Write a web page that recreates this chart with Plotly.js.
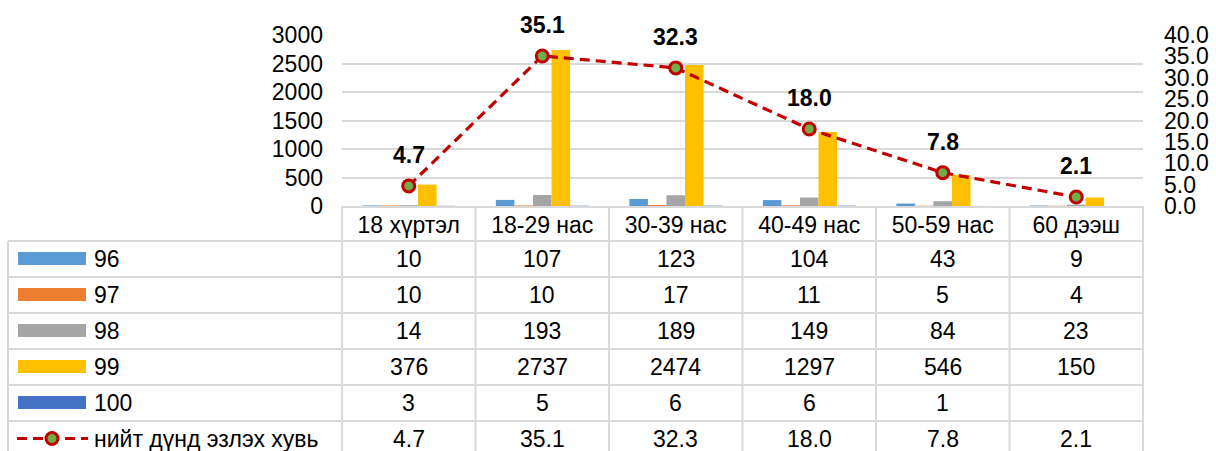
<!DOCTYPE html>
<html>
<head>
<meta charset="utf-8">
<script src="https://cdn.plot.ly/plotly-3.0.1.min.js"></script>
<style>
html,body{margin:0;padding:0;background:#fff;}
#chart{width:1216px;height:451px;}
</style>
</head>
<body>
<div id="chart"></div>
<script>
// ---- data ----
const categories = ["18 хүртэл", "18-29 нас", "30-39 нас", "40-49 нас", "50-59 нас", "60 дээш"];
const seriesNames = ["96", "97", "98", "99", "100"];
const s96  = [10, 107, 123, 104, 43, 9];
const s97  = [10, 10, 17, 11, 5, 4];
const s98  = [14, 193, 189, 149, 84, 23];
const s99  = [376, 2737, 2474, 1297, 546, 150];
const s100 = [3, 5, 6, 6, 1, null];
const lineName = "нийт дүнд эзлэх хувь";
const lineVals = [4.7, 35.1, 32.3, 18.0, 7.8, 2.1];
const leftTicks = [0, 500, 1000, 1500, 2000, 2500, 3000];
const rightTicks = [0, 5, 10, 15, 20, 25, 30, 35, 40];

// ---- style ----
const W = 1216, H = 451;
const colors = ["#5B9BD5", "#ED7D31", "#A5A5A5", "#FFC000", "#4472C4"];
const lineColor = "#C00000", markerFill = "#70AD47";
const gridColor = "#D9D9D9";
const FONT = "Liberation Sans, Arial, sans-serif";
const FS = 23;
const plotL = 342, plotR = 1143, plotT = 35, plotB = 206;
const rowTop = 241, rowH = 36;

const P = x => x / W;
const Q = y => (H - y) / H;

const barSeries = [s96, s97, s98, s99, s100];
const idx = categories.map((c, i) => i);

const traces = barSeries.map((vals, k) => ({
  type: "bar", name: seriesNames[k], x: idx, y: vals,
  marker: {color: colors[k]}, xaxis: "x", yaxis: "y", hoverinfo: "skip"
}));
traces.push({
  type: "scatter", mode: "lines+markers", name: lineName, x: idx, y: lineVals,
  xaxis: "x", yaxis: "y2", cliponaxis: false,
  line: {color: lineColor, width: 3.2, dash: "10px,6px"},
  marker: {size: 12, color: markerFill, line: {color: lineColor, width: 3}}
});

const shapes = [];
const annotations = [];
const lc = {color: gridColor, width: 2};

// table grid
const colW = (plotR - plotL) / categories.length;
for (let k = 0; k <= categories.length; k++) {
  const x = plotL + colW * k;
  shapes.push({type: "line", xref: "paper", yref: "paper", x0: P(x), x1: P(x), y0: Q(plotB), y1: Q(H + 5), line: lc});
}
shapes.push({type: "line", xref: "paper", yref: "paper", x0: P(8), x1: P(8), y0: Q(rowTop), y1: Q(H + 5), line: lc});
for (let r = 0; r < 6; r++) {
  const y = rowTop + rowH * r;
  shapes.push({type: "line", xref: "paper", yref: "paper", x0: P(8), x1: P(plotR), y0: Q(y), y1: Q(y), line: lc});
}

// rows
const rowLabels = seriesNames.concat([lineName]);
const rowData = barSeries.concat([lineVals]);
rowLabels.forEach((lab, r) => {
  const cy = rowTop + rowH * r + 17.5;
  if (r < 5) {
    shapes.push({type: "rect", xref: "paper", yref: "paper", x0: P(18), x1: P(86), y0: Q(cy - 6.5), y1: Q(cy + 6.5),
      fillcolor: colors[r], line: {width: 0}});
  } else {
    shapes.push({type: "line", xref: "paper", yref: "paper", x0: P(17), x1: P(88), y0: Q(cy), y1: Q(cy),
      line: {color: lineColor, width: 3.2, dash: "10px,6px"}});
    shapes.push({type: "circle", xref: "paper", yref: "paper", x0: P(46), x1: P(58), y0: Q(cy + 6), y1: Q(cy - 6),
      fillcolor: markerFill, line: {color: lineColor, width: 3}});
  }
  annotations.push({xref: "paper", yref: "paper", x: P(92), y: Q(cy), xanchor: "left", yanchor: "middle",
    text: lab, showarrow: false, font: {family: FONT, size: FS, color: "#000"}});
  rowData[r].forEach((v, i) => {
    if (v === null || v === undefined) return;
    annotations.push({xref: "x", yref: "paper", x: i, y: Q(cy), xanchor: "center", yanchor: "middle",
      text: r === 5 ? v.toFixed(1) : String(v), showarrow: false, font: {family: FONT, size: FS, color: "#000"}});
  });
});

// data labels on the line
lineVals.forEach((v, i) => {
  annotations.push({xref: "x", yref: "y2", x: i, y: v, yshift: 31, xanchor: "center", yanchor: "middle",
    text: "<b>" + v.toFixed(1) + "</b>", showarrow: false, font: {family: FONT, size: FS, color: "#000"}});
});

const layout = {
  width: W, height: H,
  margin: {l: 0, r: 0, t: 0, b: 0},
  paper_bgcolor: "#fff", plot_bgcolor: "rgba(0,0,0,0)",
  showlegend: false,
  barmode: "group", bargap: 0.305, bargroupgap: 0,
  font: {family: FONT, size: FS, color: "#000"},
  xaxis: {
    domain: [P(plotL), P(plotR)], anchor: "y", type: "linear",
    range: [-0.5, categories.length - 0.5],
    tickmode: "array", tickvals: idx, ticktext: categories,
    showgrid: false, zeroline: false, showline: true, linecolor: gridColor, linewidth: 2,
    ticks: "", ticklabelstandoff: -3, automargin: false,
    tickfont: {family: FONT, size: FS, color: "#000"}
  },
  yaxis: {
    domain: [Q(plotB), Q(plotT)], anchor: "x",
    range: [0, 3000], tickmode: "array", tickvals: leftTicks,
    showgrid: true, gridcolor: gridColor, gridwidth: 2, zeroline: false, showline: false,
    ticks: "", ticklabelstandoff: 18, automargin: false,
    tickfont: {family: FONT, size: FS, color: "#000"}
  },
  yaxis2: {
    domain: [Q(plotB), Q(plotT)], anchor: "x", overlaying: "y", side: "right",
    range: [0, 40], tickmode: "array", tickvals: rightTicks, tickformat: ".1f",
    showgrid: false, zeroline: false, showline: false,
    ticks: "", ticklabelstandoff: 20, automargin: false,
    tickfont: {family: FONT, size: FS, color: "#000"}
  },
  shapes: shapes,
  annotations: annotations
};

Plotly.newPlot("chart", traces, layout, {displayModeBar: false, staticPlot: true});
</script>
</body>
</html>
